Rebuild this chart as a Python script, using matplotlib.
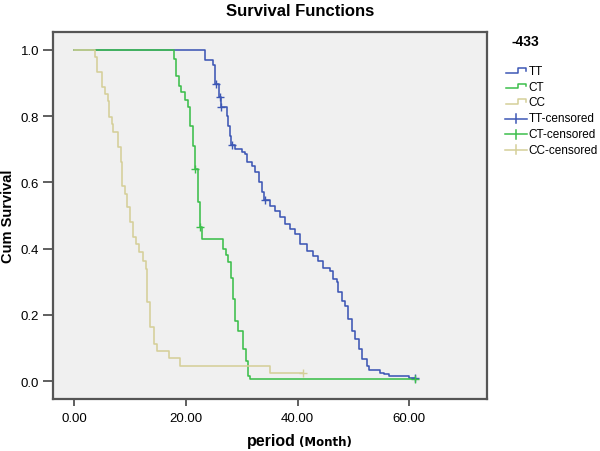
import numpy as np
import matplotlib
matplotlib.use("Agg")
import matplotlib.pyplot as plt
from matplotlib.lines import Line2D

# ---------------- data ----------------
groups = ["TT", "CT", "CC"]
legend_title = "-433"

tt_times = [0, 23.4, 24.9, 25.2, 25.9, 26.2, 27.3, 27.6, 27.9, 28.1, 28.8, 30.0, 30.6, 30.9,
            31.8, 32.4, 33.0, 33.6, 34.0, 35.1, 36.0, 36.9, 37.8, 38.7, 39.6, 40.4, 41.6,
            42.8, 43.7, 44.6, 45.8, 46.4, 47.0, 47.3, 47.9, 48.5, 49.1, 49.7, 50.3, 50.9,
            51.5, 52.4, 52.7, 54.8, 55.4, 56.3, 59.9]
tt_surv = [1.0, 0.968, 0.953, 0.897, 0.857, 0.827, 0.800, 0.770, 0.740, 0.713, 0.701, 0.693,
           0.686, 0.661, 0.650, 0.630, 0.600, 0.570, 0.548, 0.530, 0.515, 0.495, 0.474, 0.459,
           0.444, 0.414, 0.394, 0.379, 0.363, 0.343, 0.333, 0.308, 0.298, 0.268, 0.243, 0.227,
           0.187, 0.152, 0.127, 0.097, 0.066, 0.046, 0.034, 0.026, 0.020, 0.014, 0.008]
tt_end = 61.0
tt_censored = [25.4, 26.1, 26.3, 28.2, 34.2, 61.0]

ct_times = [0, 17.8, 18.2, 18.7, 19.2, 19.8, 20.4, 20.7, 21.3, 21.6, 22.2, 22.5, 22.9, 26.7,
            27.1, 27.6, 28.0, 28.5, 28.8, 29.4, 30.3, 30.7, 31.2, 31.5]
ct_surv = [1.0, 0.973, 0.920, 0.890, 0.872, 0.850, 0.827, 0.771, 0.711, 0.640, 0.540, 0.464,
           0.429, 0.399, 0.380, 0.359, 0.310, 0.248, 0.182, 0.150, 0.097, 0.060, 0.016, 0.005]
ct_end = 61.0
ct_censored = [21.7, 22.6, 61.0]

cc_times = [0, 3.7, 4.0, 4.9, 5.5, 6.0, 6.3, 6.7, 7.0, 7.9, 8.4, 8.6, 9.1, 9.4, 10.0, 10.6,
            11.0, 11.6, 12.4, 12.8, 13.1, 13.6, 14.3, 14.9, 17.0, 18.9, 35.0]
cc_surv = [1.0, 0.978, 0.933, 0.887, 0.867, 0.847, 0.797, 0.776, 0.751, 0.706, 0.661, 0.590,
           0.565, 0.525, 0.479, 0.434, 0.414, 0.389, 0.363, 0.338, 0.238, 0.162, 0.112, 0.092,
           0.069, 0.046, 0.023]
cc_end = 41.0
cc_censored = [41.0]

x_ticks = [0, 20, 40, 60]
y_ticks = [0.0, 0.2, 0.4, 0.6, 0.8, 1.0]

# ---------------- style ----------------
colors = {"TT": "#3d57b5", "CT": "#3cbf4b", "CC": "#d5cf99"}
plt.rcParams['font.family'] = ['Liberation Sans', 'DejaVu Sans']

W, H = 600, 452
fig = plt.figure(figsize=(W / 100, H / 100), dpi=100)

def fx(px):
    return px / W

def fy(py):
    return 1 - py / H

ax = fig.add_axes([fx(53), fy(400), fx(487) - fx(53), fy(33) - fy(400)])
ax.set_facecolor("#f0f0f0")
for s in ax.spines.values():
    s.set_color("#555555")
    s.set_linewidth(1.6)

series = [
    ("TT", tt_times, tt_surv, tt_end, tt_censored),
    ("CT", ct_times, ct_surv, ct_end, ct_censored),
    ("CC", cc_times, cc_surv, cc_end, cc_censored),
]

for name, t, s, end, cens in series:
    tt = list(t) + [end]
    ss = list(s) + [s[-1]]
    ax.step(tt, ss, where="post", color=colors[name], lw=1.15, zorder=3)
    t_arr = np.array(t)
    cy = [s[np.searchsorted(t_arr, c, side="right") - 1] for c in cens]
    ax.plot(cens, cy, linestyle="none", marker="+", markersize=6, mew=1.0,
            color=colors[name], zorder=4)

ax.set_xlim(-3.8, 73.9)
ax.set_ylim(-0.054, 1.054)
ax.set_xticks(x_ticks)
ax.set_xticklabels([f"{v:.2f}" for v in x_ticks])
ax.set_yticks(y_ticks)
ax.set_yticklabels([f"{v:.1f}" for v in y_ticks])
ax.tick_params(axis="x", length=5, width=1.2, color="#444444", labelsize=9.5, pad=4)
ax.tick_params(axis="y", length=7, width=1.2, color="#444444", labelsize=9.5, pad=3)

# titles / labels
fig.text(0.5, fy(11), "Survival Functions", ha="center", va="center",
         fontsize=12, fontweight="bold")
fig.text(fx(8.5), fy(216), "Cum Survival", rotation=90, ha="center", va="center",
         fontsize=10.5, fontweight="bold")
fig.text(fx(296), fy(446), "period", ha="right", va="baseline",
         fontsize=11.5, fontweight="bold")
fig.text(fx(299), fy(446), "(Month)", ha="left", va="baseline",
         fontsize=8.5, fontweight="bold", family=["DejaVu Sans"])

# legend (drawn manually in SPSS style)
fig.text(fx(512), fy(42), legend_title, ha="left", va="center",
         fontsize=10, fontweight="bold")
row_y = [72.3, 87.8, 103.3, 119.5, 135.0, 150.5]
labels = groups + [g + "-censored" for g in groups]
for i, lab in enumerate(labels):
    y = row_y[i]
    g = lab.split("-")[0]
    c = colors[g]
    if i < 3:
        xs = [506, 518, 518, 526, 526]
        ys = [y + 1.5, y + 1.5, y - 3, y - 3, y - 0.5]
        fig.add_artist(Line2D([fx(v) for v in xs], [fy(v) for v in ys], color=c, lw=1.1))
    else:
        fig.add_artist(Line2D([fx(505), fx(527)], [fy(y), fy(y)], color=c, lw=1.1))
        fig.add_artist(Line2D([fx(515.5), fx(515.5)], [fy(y - 4.5), fy(y + 4.5)], color=c, lw=1.1))
    fig.text(fx(528.5), fy(y), lab, ha="left", va="center", fontsize=8.5)

fig.savefig("out.png", dpi=100)
